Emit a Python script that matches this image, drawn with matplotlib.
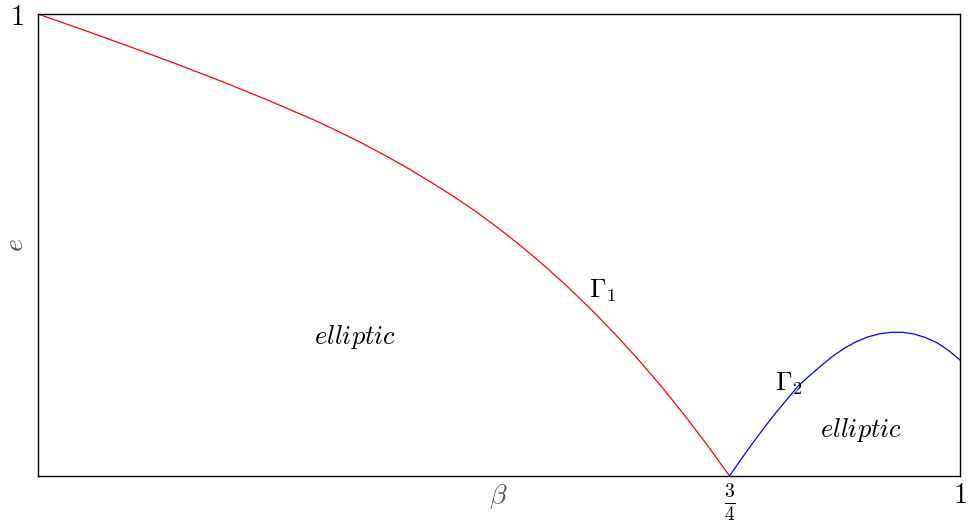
import matplotlib
matplotlib.use("Agg")
import matplotlib.pyplot as plt

plt.rcParams['mathtext.fontset'] = 'cm'
plt.rcParams['font.family'] = ['DejaVu Serif']

# curve Gamma_1 (red)
g1_beta = [0.0, 0.05, 0.1, 0.15, 0.2, 0.25, 0.3, 0.325, 0.35, 0.375, 0.4, 0.425, 0.45, 0.475, 0.5, 0.525,
           0.55, 0.575, 0.6, 0.625, 0.65, 0.675, 0.7, 0.725, 0.75]
g1_e = [1.0, 0.965, 0.929, 0.892, 0.8535, 0.813, 0.770, 0.7465, 0.722, 0.6955, 0.6675, 0.6375, 0.606,
        0.5725, 0.5355, 0.496, 0.4538, 0.4085, 0.3603, 0.309, 0.2545, 0.1965, 0.1348, 0.0693, 0.0]

# curve Gamma_2 (blue)
g2_beta = [0.75, 0.7625, 0.775, 0.7875, 0.8, 0.8125, 0.825, 0.8375, 0.85, 0.8625, 0.875,
           0.8875, 0.9, 0.9125, 0.925, 0.9375, 0.95, 0.9625, 0.975, 0.9875, 1.0]
g2_e = [0.0, 0.036, 0.0708, 0.1043, 0.1363, 0.1662, 0.196, 0.2184, 0.2398, 0.2601, 0.277,
        0.2907, 0.301, 0.3077, 0.311, 0.311, 0.3075, 0.2997, 0.2885, 0.272, 0.251]

xtick_pos = [0.75, 1.0]
xtick_labels = [r'$\frac{3}{4}$', r'$1$']
ytick_pos = [1.0]
ytick_labels = [r'$1$']

fig = plt.figure(figsize=(9.68, 5.21), dpi=100)
ax = fig.add_axes([38 / 968, 1 - 476 / 521, 922 / 968, 462 / 521])

ax.plot(g1_beta, g1_e, color='red', lw=0.9)
ax.plot(g2_beta, g2_e, color='blue', lw=0.9)

ax.set_xlim(0, 1)
ax.set_ylim(0, 1)

ax.set_xticks(xtick_pos)
ax.set_xticklabels(xtick_labels, fontsize=20)
ax.set_yticks(ytick_pos)
ax.set_yticklabels(ytick_labels, fontsize=20)
ax.tick_params(axis='x', length=0, pad=4)
ax.tick_params(axis='y', length=0, pad=10)

for s in ax.spines.values():
    s.set_linewidth(1.0)

ax.set_xlabel(r'$\beta$', fontsize=20, color='#555555')
ax.xaxis.set_label_coords(0.499, -0.045)
ax.xaxis.label.set_va('center')
ax.set_ylabel(r'$e$', fontsize=20, color='#555555')
ax.yaxis.set_label_coords(-0.024, 0.5)
ax.yaxis.label.set_va('center')

ax.text(0.344, 0.30, r'$elliptic$', fontsize=19, ha='center', va='center')
ax.text(0.893, 0.10, r'$elliptic$', fontsize=19, ha='center', va='center')
ax.text(0.613, 0.40, r'$\Gamma_1$', fontsize=19, ha='center', va='center')
ax.text(0.814, 0.20, r'$\Gamma_2$', fontsize=19, ha='center', va='center')

fig.savefig('out.png', dpi=100)
